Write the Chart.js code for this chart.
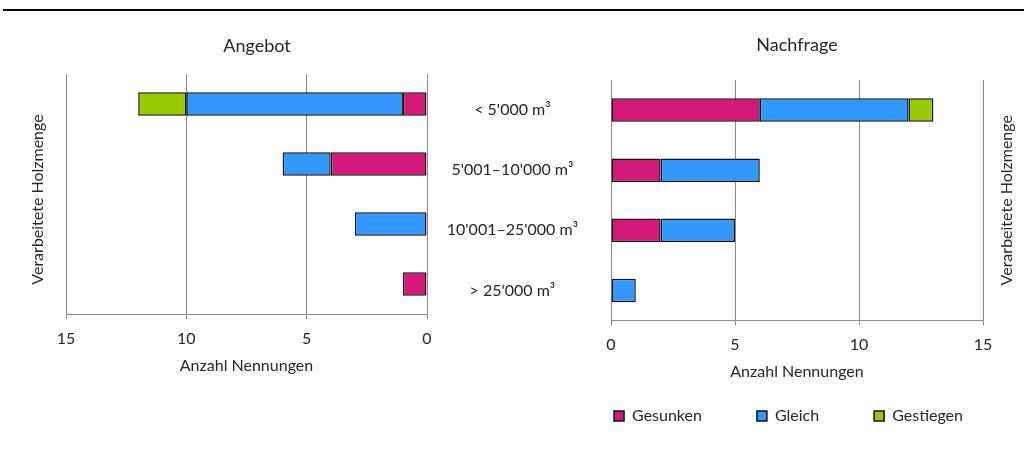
<!DOCTYPE html>
<html>
<head>
<meta charset="utf-8">
<script src="https://cdn.jsdelivr.net/npm/chart.js@4.4.0/dist/chart.umd.min.js"></script>
<style>
  body { margin: 0; background: #fff; width: 1029px; height: 466px; overflow: hidden; position: relative; }
  #rule { position: absolute; left: 3px; top: 9px; width: 1021px; height: 2px; background: #000; }
  #angebot { position: absolute; left: 0; top: 0; }
  #nachfrage { position: absolute; left: 440px; top: 0; }
</style>
</head>
<body>
<div id="rule"></div>
<canvas id="angebot" width="514" height="466" style="width:514px;height:466px"></canvas>
<canvas id="nachfrage" width="589" height="466" style="width:589px;height:466px"></canvas>
<script>
const groups = ["< 5'000 m³", "5'001–10'000 m³", "10'001–25'000 m³", "> 25'000 m³"]
const seriesNames = ['Gesunken', 'Gleich', 'Gestiegen']
const seriesColors = ['#d5197a', '#3399ff', '#99cc00']

const angebotGesunken = [1, 4, 0, 1]
const angebotGleich = [9, 2, 3, 0]
const angebotGestiegen = [2, 0, 0, 0]

const nachfrageGesunken = [6, 2, 2, 0]
const nachfrageGleich = [6, 4, 3, 1]
const nachfrageGestiegen = [1, 0, 0, 0]

const axisTicks = [0, 5, 10, 15]

Chart.defaults.font.family = 'Lato'
Chart.defaults.font.size = 16
Chart.defaults.color = '#262626'

const gridColor = '#8a8a8a'

// rotated axis title drawn next to the plot (reads bottom to top on both sides)
const sideTitle = {
    id: 'sideTitle',
    afterDraw(chart, args, opts) {
        const {ctx, chartArea} = chart
        const x = opts.side === 'left' ? chartArea.left - opts.offset : chartArea.right + opts.offset
        ctx.save()
        ctx.translate(x, (chartArea.top + chartArea.bottom) / 2 + opts.dy)
        ctx.rotate(-Math.PI / 2)
        ctx.font = '16px Lato'
        ctx.fillStyle = '#262626'
        ctx.textAlign = 'center'
        ctx.textBaseline = 'middle'
        ctx.fillText(opts.text, 0, 0)
        ctx.restore()
    }
}

function makeSets(a, b, c) {
    return [a, b, c].map((values, i) => ({
        label: seriesNames[i],
        data: values,
        backgroundColor: seriesColors[i],
        borderColor: '#111',
        borderWidth: 1.5,
        borderSkipped: false,
        barPercentage: 0.39,
        categoryPercentage: 1
    }))
}

function xScale(reverse, height, titlePad) {
    return {
        type: 'linear',
        position: 'bottom',
        stacked: true,
        reverse,
        min: 0,
        max: 15,
        afterBuildTicks: s => { s.ticks = axisTicks.map(v => ({value: v})) },
        afterFit: s => { s.height = height },
        grid: { color: gridColor, tickLength: 5 },
        border: { color: gridColor },
        ticks: { padding: 10 },
        title: { display: true, text: 'Anzahl Nennungen', padding: titlePad }
    }
}

const hidden = width => ({
    type: 'category',
    display: true,
    grid: { display: false },
    border: { display: false },
    ticks: { display: false },
    afterFit: s => { s.width = width }
})

new Chart(document.getElementById('angebot'), {
    type: 'bar',
    data: { labels: groups, datasets: makeSets(angebotGesunken, angebotGleich, angebotGestiegen) },
    options: {
        indexAxis: 'y',
        responsive: false,
        animation: false,
        layout: { padding: { top: 0, left: 0, right: 0, bottom: 82 } },
        scales: {
            x: xScale(true, 70, { top: 0, bottom: 8.7 }),
            y: { ...hidden(66), position: 'left', stacked: true },
            yr: { ...hidden(87), position: 'right' }
        },
        plugins: {
            legend: { display: false },
            tooltip: { enabled: false },
            title: {
                display: true, text: 'Angebot',
                font: { size: 18, weight: 'normal' },
                padding: { top: 35.2, bottom: 17.2 }
            },
            sideTitle: { text: 'Verarbeitete Holzmenge', side: 'left', offset: 28, dy: 5.5 }
        }
    },
    plugins: [sideTitle]
})

new Chart(document.getElementById('nachfrage'), {
    type: 'bar',
    data: { labels: groups, datasets: makeSets(nachfrageGesunken, nachfrageGleich, nachfrageGestiegen) },
    options: {
        indexAxis: 'y',
        responsive: false,
        animation: false,
        layout: { padding: { top: 0, left: 0, right: 11, bottom: 32 } },
        scales: {
            x: xScale(false, 32.5, { top: 0, bottom: -28.3 }),
            y: {
                type: 'category',
                position: 'left',
                stacked: true,
                grid: { display: false },
                border: { display: false },
                ticks: { crossAlign: 'center', padding: 25 },
                afterFit: s => { s.width = 171 }
            },
            yr: { ...hidden(35), position: 'right' }
        },
        plugins: {
            legend: {
                position: 'bottom',
                align: 'end',
                labels: { boxWidth: 10, boxHeight: 10, padding: 55 }
            },
            tooltip: { enabled: false },
            title: {
                display: true, text: 'Nachfrage',
                fullSize: false,
                font: { size: 18, weight: 'normal' },
                padding: { top: 34.2, bottom: 24.2 }
            },
            sideTitle: { text: 'Verarbeitete Holzmenge', side: 'right', offset: 24, dy: 0 }
        }
    },
    plugins: [sideTitle]
})
</script>
</body>
</html>
